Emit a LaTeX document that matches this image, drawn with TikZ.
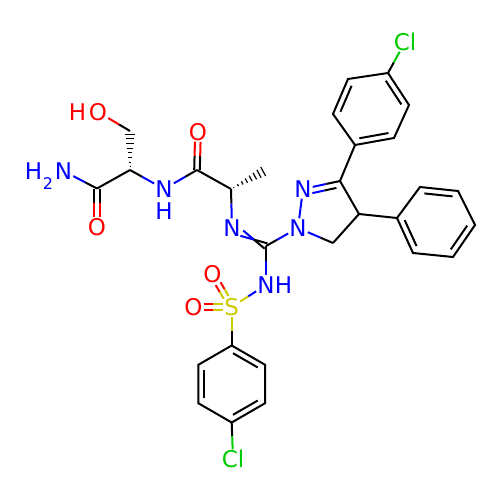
\documentclass[tikz,border=0pt]{standalone}
\usepackage{fontspec}
\setmainfont{DejaVu Sans}
\usetikzlibrary{calc}
\definecolor{cN}{rgb}{0,0,1}
\definecolor{cO}{rgb}{1,0,0}
\definecolor{cS}{rgb}{0.8,0.8,0}
\definecolor{cCl}{rgb}{0,0.8,0}
\tikzset{
  bond/.style={line width=2pt, line cap=butt},
  hashln/.style={line width=1.2pt},
  atom/.style={inner sep=1pt, text height=17pt, text depth=0pt, font=\fontsize{23}{23}\selectfont},
  subscr/.style={inner sep=0pt, font=\fontsize{16}{16}\selectfont}
}
% half-coloured single bond
\newcommand\bd[4]{\path (#1) -- (#2) coordinate[pos=0.5] (bdm);
  \draw[bond,#3] (#1) -- (bdm); \draw[bond,#4] (bdm) -- (#2);}
% symmetric double bond
\newcommand\dbd[5]{\path (#1) -- (#2) coordinate[pos=0] (dp) coordinate[pos=1] (dq);
  \coordinate (dp1) at ($(dp)!#5!90:(dq)$); \coordinate (dq1) at ($(dq)!#5!-90:(dp)$);
  \coordinate (dp2) at ($(dp)!#5!-90:(dq)$); \coordinate (dq2) at ($(dq)!#5!90:(dp)$);
  \bd{dp1}{dq1}{#3}{#4} \bd{dp2}{dq2}{#3}{#4}}
% inner ring line
\newcommand\inl[3]{\draw[bond, shorten <=1.5pt, shorten >=1.5pt] ($(#3)!0.82!(#1)$) -- ($(#3)!0.82!(#2)$);}
% hashed wedge, narrow at #1
\newcommand\hashw[2]{\foreach \t in {0.08,0.2,0.32,0.44,0.56,0.68,0.8,0.92}{%
  \pgfmathsetmacro\w{\t*5.5}%
  \coordinate (hp) at ($(#1)!\t!(#2)$);
  \draw[hashln] ($(hp)!\w pt!90:(#2)$) -- ($(hp)!\w pt!-90:(#2)$);}}
\begin{document}
\begin{tikzpicture}[x=1pt,y=-1pt]
\fill[white] (0,0) rectangle (500,500);
\useasboundingbox (0,0) rectangle (500,500);
% ---- atoms
\node[atom,text=cO] (Oh) at (98,112) {O};
\node[atom,text=cO] (Hh) at (77.5,112) {H};
\coordinate (Cb) at (130,131);
\coordinate (Ca1) at (130,170);
\node[atom,text=cN] (Nam) at (63.5,171) {N};
\node[atom,text=cN] (Ham) at (33.5,171) {H};
\node[subscr,text=cN] (Ham2) at (48,184) {2};
\coordinate (Cam) at (97,188.5);
\node[atom,text=cO] (Oam) at (97,227) {O};
\node[atom,text=cN] (Npep) at (164,189) {N};
\node[atom,text=cN] (Hpep) at (164,211) {H};
\coordinate (Cpep) at (197,170);
\node[atom,text=cO] (Opep) at (198,132) {O};
\coordinate (Ca2) at (231,189);
\coordinate (Me) at (266,170);
\node[atom,text=cN] (Nim) at (232,228) {N};
\coordinate (Cg) at (266,246);
\node[atom,text=cN] (N1) at (298,228) {N};
\node[atom,text=cN] (N2) at (303,189) {N};
\coordinate (C3) at (340,181);
\coordinate (C4) at (359,214);
\coordinate (C5) at (333,243);
% chlorophenyl (top)
\coordinate (a1) at (355,145);
\coordinate (a2) at (394,138);
\coordinate (a3) at (409,105);
\coordinate (a4) at (388,73);
\coordinate (a5) at (348,79);
\coordinate (a6) at (333,114);
\coordinate (ca) at (371.2,109);
\node[atom,text=cCl] (Cl1) at (405,42) {Cl};
% phenyl
\coordinate (p1) at (397,218);
\coordinate (p2) at (420,187);
\coordinate (p3) at (458,191);
\coordinate (p4) at (475,225);
\coordinate (p5) at (453,257);
\coordinate (p6) at (413,253);
\coordinate (cp) at (436,221.8);
% sulfonamide
\node[atom,text=cN] (Ns) at (266,285) {N};
\node[atom,text=cN] (Hs) at (283.5,285) {H};
\node[atom,text=cS] (S) at (231.7,307) {S};
\node[atom,text=cO] (Os1) at (193.3,307) {O};
\node[atom,text=cO] (Os2) at (212.5,274) {O};
\coordinate (b1) at (231.7,345.5);
\coordinate (b2) at (265,364.75);
\coordinate (b3) at (265,403.25);
\coordinate (b4) at (231.7,422.5);
\coordinate (b5) at (198.4,403.25);
\coordinate (b6) at (198.4,364.75);
\coordinate (cb) at (231.7,384);
\node[atom,text=cCl] (Cl2) at (233,459) {Cl};
% ---- bonds
\bd{Oh}{Cb}{cO}{black}
\hashw{Ca1}{Cb}
\bd{Ca1}{Cam}{black}{black}
\bd{Nam}{Cam}{cN}{black}
\dbd{Cam}{Oam}{black}{cO}{2.8pt}
\bd{Ca1}{Npep}{black}{cN}
\bd{Npep}{Cpep}{cN}{black}
\dbd{Cpep}{Opep}{black}{cO}{2.8pt}
\bd{Cpep}{Ca2}{black}{black}
\hashw{Ca2}{Me}
\bd{Ca2}{Nim}{black}{cN}
% crossed double bond
\path (Nim) -- (Cg) coordinate[pos=0] (xp) coordinate[pos=1] (xq);
\coordinate (xp1) at ($(xp)!3pt!90:(xq)$); \coordinate (xq1) at ($(xq)!3pt!90:(xp)$);
\coordinate (xp2) at ($(xp)!3pt!-90:(xq)$); \coordinate (xq2) at ($(xq)!3pt!-90:(xp)$);
\bd{xp1}{xq1}{cN}{black}
\bd{xp2}{xq2}{cN}{black}
\bd{Cg}{N1}{black}{cN}
\bd{Cg}{Ns}{black}{cN}
\bd{N1}{N2}{cN}{cN}
\bd{N2}{C3}{cN}{black}
\coordinate (i1) at ($(N2)!0.22!(C3)$); \coordinate (i1b) at ($(i1)!6pt!-90:(C3)$);
\coordinate (i2) at ($(N2)!0.87!(C3)$); \coordinate (i2b) at ($(i2)!6pt!-90:(C3)$);
\bd{i1b}{i2b}{cN}{black}
\draw[bond] (C3) -- (C4) -- (C5);
\bd{C5}{N1}{black}{cN}
% top aryl
\draw[bond] (C3) -- (a1);
\draw[bond] (a1) -- (a2) -- (a3) -- (a4) -- (a5) -- (a6) -- cycle;
\inl{a1}{a2}{ca}
\inl{a3}{a4}{ca}
\inl{a5}{a6}{ca}
\bd{a4}{Cl1}{black}{cCl}
% phenyl
\draw[bond] (C4) -- (p1);
\draw[bond] (p1) -- (p2) -- (p3) -- (p4) -- (p5) -- (p6) -- cycle;
\inl{p2}{p3}{cp}
\inl{p4}{p5}{cp}
\inl{p6}{p1}{cp}
% sulfonyl
\bd{Ns}{S}{cN}{cS}
\dbd{S}{Os1}{cS}{cO}{2.8pt}
\dbd{S}{Os2}{cS}{cO}{2.8pt}
\bd{S}{b1}{cS}{black}
\draw[bond] (b1) -- (b2) -- (b3) -- (b4) -- (b5) -- (b6) -- cycle;
\inl{b1}{b2}{cb}
\inl{b3}{b4}{cb}
\inl{b5}{b6}{cb}
\bd{b4}{Cl2}{black}{cCl}
\end{tikzpicture}
\end{document}
